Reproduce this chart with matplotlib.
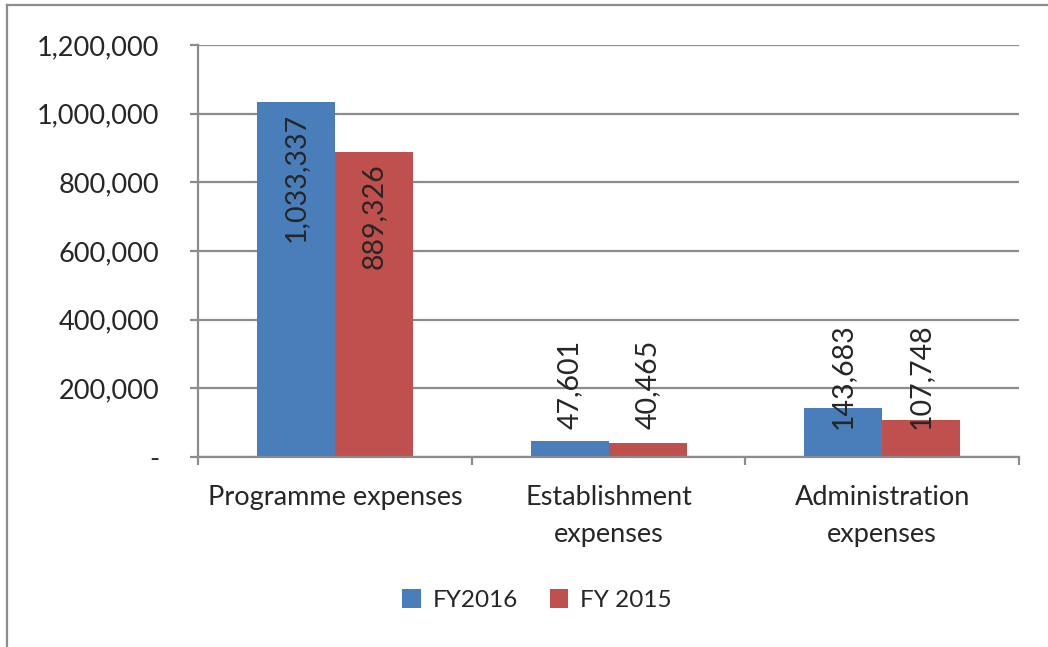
import matplotlib
matplotlib.use("Agg")
import matplotlib.pyplot as plt
from matplotlib.lines import Line2D
from matplotlib.ticker import FuncFormatter, FixedLocator
import numpy as np

categories = ["Programme expenses", "Establishment\nexpenses", "Administration\nexpenses"]
series_names = ["FY2016", "FY 2015"]
fy2016 = [1033337, 47601, 143683]
fy2015 = [889326, 40465, 107748]
colors = ["#4A7EBB", "#C0504D"]
yticks = [0, 200000, 400000, 600000, 800000, 1000000, 1200000]

plt.rcParams['font.family'] = ['Lato', 'DejaVu Sans']
text_color = "#262626"
grid_color = "#8C8C8C"

fig = plt.figure(figsize=(10.48, 6.47), dpi=100)
ax = fig.add_axes([0.189, 0.2937, 0.9723 - 0.189, 0.9304 - 0.2937])

x = np.arange(len(categories))
w = 0.285
bars1 = ax.bar(x - w / 2, fy2016, w, color=colors[0], label=series_names[0], zorder=3)
bars2 = ax.bar(x + w / 2, fy2015, w, color=colors[1], label=series_names[1], zorder=3)

for bars, vals in ((bars1, fy2016), (bars2, fy2015)):
    for b, v in zip(bars, vals):
        cx = b.get_x() + b.get_width() / 2
        lbl = f"{v:,}"
        if v > 500000:
            ax.annotate(lbl, (cx, v), xytext=(0, -8), textcoords="offset points",
                        rotation=90, ha="center", va="top", fontsize=20.5,
                        color=text_color, zorder=4)
        else:
            ax.annotate(lbl, (cx, 0), xytext=(0, 20), textcoords="offset points",
                        rotation=90, ha="center", va="bottom", fontsize=20.5,
                        color=text_color, zorder=4)

ax.set_xlim(-0.5, len(categories) - 0.5)
ax.set_ylim(0, 1200000)
ax.set_yticks(yticks)
ax.yaxis.set_major_formatter(FuncFormatter(lambda v, p: "-" if v == 0 else f"{int(v):,}"))
ax.yaxis.grid(True, color=grid_color, linewidth=1.6, zorder=0)
ax.tick_params(axis="y", length=6, width=1.6, color=grid_color, pad=22,
               labelsize=19.5, labelcolor=text_color)

ax.set_xticks(x)
ax.set_xticklabels(categories)
ax.xaxis.set_minor_locator(FixedLocator(np.arange(len(categories) + 1) - 0.5))
ax.tick_params(axis="x", which="major", length=0, pad=20, labelsize=19.5, labelcolor=text_color)
ax.tick_params(axis="x", which="minor", length=6, width=1.6, color=grid_color)
for t in ax.get_xticklabels():
    t.set_linespacing(1.6)

for s in ("top", "right"):
    ax.spines[s].set_visible(False)
for s in ("left", "bottom"):
    ax.spines[s].set_color(grid_color)
    ax.spines[s].set_linewidth(1.6)
ax.spines["bottom"].set_zorder(5)

leg = fig.legend(handles=[bars1, bars2], labels=series_names, loc="center",
                 bbox_to_anchor=(537 / 1048, 1 - 600 / 647), ncol=2, frameon=False,
                 fontsize=17.5, handlelength=0.75, handleheight=0.8, handletextpad=0.5,
                 columnspacing=1.3)
for t in leg.get_texts():
    t.set_color(text_color)

fig.add_artist(Line2D([7 / 1048, 7 / 1048], [0, 1 - 5 / 647], transform=fig.transFigure,
                      color="#8C8C8C", linewidth=1.6))
fig.add_artist(Line2D([7 / 1048, 1], [1 - 5 / 647, 1 - 5 / 647], transform=fig.transFigure,
                      color="#8C8C8C", linewidth=1.6))

fig.savefig("out.png", dpi=100, facecolor="white")
